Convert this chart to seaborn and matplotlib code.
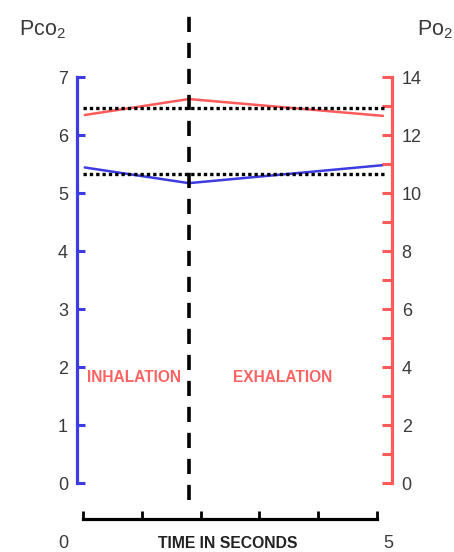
import matplotlib
matplotlib.use("Agg")
import matplotlib.pyplot as plt
import seaborn as sns

# Partial pressures (kPa) over one breath
time_s = [0.03, 1.8, 5.1]
pco2_kpa = [5.44, 5.17, 5.48]
po2_kpa = [12.69, 13.24, 12.66]

# Mean levels drawn as dotted reference lines
pco2_mean = 5.33
po2_mean = 12.92
mean_span = [0.0, 5.13]

# End of inhalation
boundary_s = 1.8

pco2_ticks = [0, 1, 2, 3, 4, 5, 6, 7]
po2_major = [0, 2, 4, 6, 8, 10, 12, 14]
po2_minor = [1, 3, 5, 7, 9, 11, 13]
time_ticks = [0, 1, 2, 3, 4, 5]
phase_labels = ["INHALATION", "EXHALATION"]

sns.set_theme(style="white")
plt.rcParams["font.family"] = ["Liberation Sans", "DejaVu Sans"]
plt.rcParams["mathtext.fontset"] = "custom"
plt.rcParams["mathtext.rm"] = "Liberation Sans"
plt.rcParams["mathtext.it"] = "Liberation Sans:italic"
plt.rcParams["mathtext.bf"] = "Liberation Sans:bold"

BLUE = "#3c3ce2"
RED = "#ff5a5a"
TEXT = "#3a3a3a"

W, H = 454, 552
fig = plt.figure(figsize=(W / 100, H / 100), dpi=100)
fig.patch.set_facecolor("white")


def fx(px):
    return px / W


def fy(py):
    return 1 - py / H


x_lo, x_hi = -0.102, 5.255

ax = fig.add_axes([fx(77), fy(483), fx(392) - fx(77), fy(77) - fy(483)])
ax.patch.set_visible(False)
ax.set_xlim(x_lo, x_hi)
ax.set_ylim(0, 7)
ax2 = ax.twinx()
ax2.set_ylim(0, 14)

# Data lines
sns.lineplot(x=time_s, y=pco2_kpa, ax=ax, color=BLUE, linewidth=1.8)
sns.lineplot(x=time_s, y=po2_kpa, ax=ax2, color=RED, linewidth=1.8)

# Mean reference lines
ax.plot(mean_span, [pco2_mean, pco2_mean], color="black",
        linewidth=2.4, linestyle=(0, (1, 0.9)))
ax2.plot(mean_span, [po2_mean, po2_mean], color="black",
         linewidth=2.4, linestyle=(0, (1, 0.9)))

# Inhalation / exhalation boundary
ax2.axvline(boundary_s, ymin=-0.042, ymax=1.16, clip_on=False,
            color="black", linewidth=2.6, linestyle=(0, (4.2, 3.0)))

# Spines and ticks
for a in (ax, ax2):
    a.set_xticks([])
    a.set_xlabel("")
    a.set_ylabel("")
    for s in ("top", "bottom"):
        a.spines[s].set_visible(False)
ax.spines["right"].set_visible(False)
ax2.spines["left"].set_visible(False)
ax.spines["left"].set_color(BLUE)
ax.spines["left"].set_linewidth(2.3)
ax2.spines["right"].set_color(RED)
ax2.spines["right"].set_linewidth(2.3)

ax.set_yticks(pco2_ticks)
ax.tick_params(axis="y", which="both", direction="in", length=6, width=2.2,
               color=BLUE, labelcolor=TEXT, labelsize=13, pad=6.5, left=True)
ax2.set_yticks(po2_major)
ax2.set_yticks(po2_minor, minor=True)
ax2.tick_params(axis="y", which="both", direction="in", length=7, width=2.2,
                color=RED, labelcolor=TEXT, labelsize=13, pad=7, right=True)

# Time axis below
axt = fig.add_axes([fx(77), fy(519), fx(392) - fx(77), 0.03])
axt.patch.set_visible(False)
axt.set_xlim(x_lo, x_hi)
axt.set_ylim(0, 1)
for s in ("top", "left", "right"):
    axt.spines[s].set_visible(False)
axt.spines["bottom"].set_bounds(time_ticks[0], time_ticks[-1])
axt.spines["bottom"].set_color("black")
axt.spines["bottom"].set_linewidth(2.3)
axt.set_xticks(time_ticks)
axt.set_yticks([])
axt.tick_params(axis="x", direction="in", length=5.5, width=2.0,
                color="black", labelbottom=False, bottom=True)

fig.text(fx(63), fy(544), str(time_ticks[0]), ha="center", va="center",
         fontsize=13, color=TEXT)
fig.text(fx(388), fy(544), str(time_ticks[-1]), ha="center", va="center",
         fontsize=13, color=TEXT)
fig.text(fx(228), fy(544), "TIME IN SECONDS", ha="center", va="center",
         fontsize=11.3, fontweight="bold", color="#222222")

# Axis titles
fig.text(fx(19), fy(35), r"Pco$_2$", ha="left", va="baseline",
         fontsize=15.5, color=TEXT)
fig.text(fx(417), fy(35), r"Po$_2$", ha="left", va="baseline",
         fontsize=15.5, color=TEXT)

# Phase labels
fig.text(fx(133.5), fy(377), phase_labels[0], ha="center", va="center",
         fontsize=11.2, fontweight="bold", color="#ff6262")
fig.text(fx(282.5), fy(377), phase_labels[1], ha="center", va="center",
         fontsize=11.2, fontweight="bold", color="#ff6262")

fig.savefig("out.png", dpi=100, facecolor="white")
